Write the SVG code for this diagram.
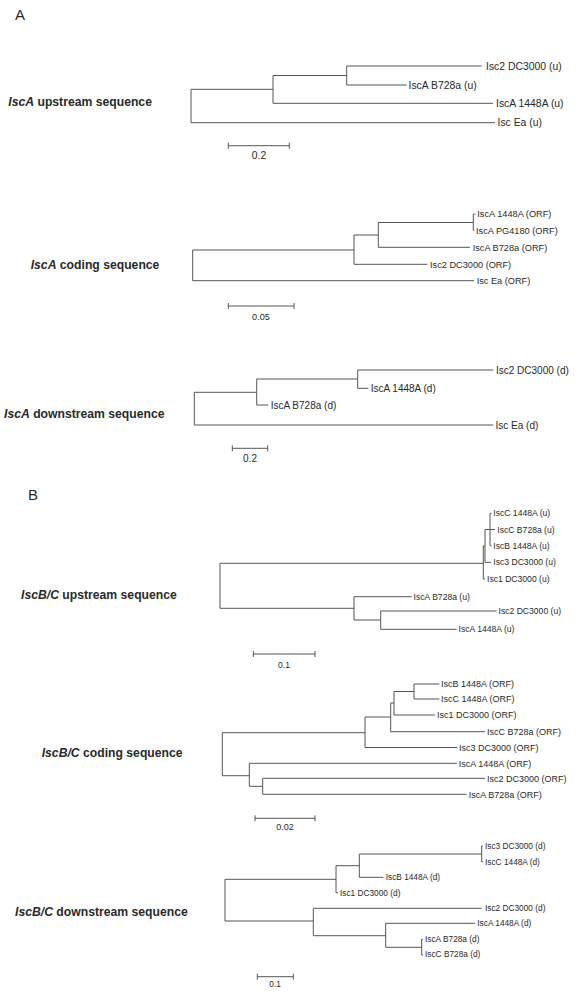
<svg xmlns="http://www.w3.org/2000/svg" width="579" height="1000" viewBox="0 0 579 1000">
<style>
text{font-family:"Liberation Sans",Arial,sans-serif;fill:#2a2a2a}
.br{fill:none;stroke:#555;stroke-width:1}
.sb{fill:none;stroke:#555;stroke-width:1}
.ttl{font-size:12.2px;font-weight:bold}
.ttl tspan.i{font-style:italic}
.pl{font-size:15px}
.a1 text{font-size:10.4px}
.a2 text{font-size:9.2px}
.a3 text{font-size:10px}
.b1 text{font-size:8.6px}
.b2 text{font-size:9px}
.b3 text{font-size:8.3px}
.sc{font-size:8.5px;text-anchor:middle}
.scb{font-size:8px;text-anchor:middle}
</style>
<rect width="579" height="1000" fill="#fff"/>
<text class="pl" x="15" y="19.5">A</text>
<text class="pl" x="28" y="499.5">B</text>
<g id="titles">
<text class="ttl" x="8.3" y="106"><tspan class="i">IscA</tspan> upstream sequence</text>
<text class="ttl" x="30.7" y="269"><tspan class="i">IscA</tspan> coding sequence</text>
<text class="ttl" x="4" y="418"><tspan class="i">IscA</tspan> downstream sequence</text>
<text class="ttl" x="21" y="599"><tspan class="i">IscB/C</tspan> upstream sequence</text>
<text class="ttl" x="41.7" y="757.3"><tspan class="i">IscB/C</tspan> coding sequence</text>
<text class="ttl" x="15" y="915.7"><tspan class="i">IscB/C</tspan> downstream sequence</text>
</g>
<g id="connectors">
<path class="br" d="M191,89.3V122.7M191,89.3H273M191,122.7H495M273,75.5V103.3M273,103.3H493M273,75.5H346.7M346.7,66V85M346.7,66H481.7M346.7,85H406.7"/>
<path class="sb" d="M228.3,145.7H289.3M228.3,142.7V148.7M289.3,142.7V148.7"/>
<path class="br" d="M192.7,250V280.7M192.7,250H354M192.7,280.7H474M354,235V264.3M354,264.3H427.3M354,235H378.3M378.3,222.5V247.3M378.3,247.3H470M378.3,222.5H473.3M473.3,214V231M473.3,214H475.5"/>
<path class="sb" d="M228.3,306H294M228.3,303V309M294,303V309"/>
<path class="br" d="M194.3,392.3V425M194.3,392.3H256.7M194.3,425H493.3M256.7,379V405M256.7,405H268.3M256.7,379H357.7M357.7,370V388.3M357.7,370H493.3M357.7,388.3H368.3"/>
<path class="sb" d="M232.3,448.3H267.7M232.3,445.3V451.3M267.7,445.3V451.3"/>
<path class="br" d="M220,563.3V608.3M220,563.3H483.3M220,608.3H354M354,596.7V620M354,596.7H411.7M354,620H380.7M380.7,611V629.3M380.7,611H496.7M380.7,629.3H456.7M483.3,546V579M483.3,546H485M483.3,579H485M485,529.5V562.3M485,562.3H491M485,529.5H490M490,513.3V545.7M490,513.3H491.5M490,545.7H491.5M490,529.5H495"/>
<path class="sb" d="M253.3,654H315M253.3,651V657M315,651V657"/>
<path class="br" d="M222.3,732.7V775.7M222.3,732.7H365M222.3,775.7H249.3M365,717V747.5M365,747.5H457.3M365,717H390.7M390.7,703V731.7M390.7,731.7H485M390.7,703H394M394,691.5V715M394,715H435M394,691.5H414M414,684V699M414,684H439.3M414,699H439.3M249.3,763.3V786.3M249.3,763.3H456.7M249.3,786.3H262.7M262.7,778.3V794.3M262.7,778.3H485M262.7,794.3H466.7"/>
<path class="sb" d="M255,818.3H315M255,815.3V821.3M315,815.3V821.3"/>
<path class="br" d="M225,879.3V921M225,879.3H336M225,921H313.3M336,865.7V892.7M336,892.7H338M336,865.7H359.3M359.3,854V877.3M359.3,877.3H383.3M359.3,854H481.7M481.7,846V861.7M481.7,846H483M481.7,861.7H483M313.3,908.3V935.7M313.3,908.3H481.7M313.3,935.7H385.7M385.7,923.3V947.3M385.7,923.3H475M385.7,947.3H421.7M421.7,939.3V955M421.7,939.3H423M421.7,955H423"/>
<path class="sb" d="M257.3,976.7H293.3M257.3,973.7V979.7M293.3,973.7V979.7"/>
</g>
<g class="a1">
<g id="a1-isc2"><text x="486" y="69.7">Isc2 DC3000 (u)</text></g>
<g id="a1-b728a"><text x="408.5" y="88.7">IscA B728a (u)</text></g>
<g id="a1-1448a"><text x="496" y="107">IscA 1448A (u)</text></g>
<g id="a1-ea"><text x="497.5" y="126.4">Isc Ea (u)</text></g>
<text class="sc" x="259" y="159">0.2</text>
</g>
<g class="a2">
<g id="a2-1448a"><text x="477.3" y="217.3">IscA 1448A (ORF)</text></g>
<g id="a2-pg4180"><text x="476" y="234.3">IscA PG4180 (ORF)</text></g>
<g id="a2-b728a"><text x="472.7" y="250.6">IscA B728a (ORF)</text></g>
<g id="a2-isc2"><text x="430" y="267.6">Isc2 DC3000 (ORF)</text></g>
<g id="a2-ea"><text x="476.7" y="284">Isc Ea (ORF)</text></g>
<text class="sc" x="261" y="320">0.05</text>
</g>
<g class="a3">
<g id="a3-isc2"><text x="496" y="373.5">Isc2 DC3000 (d)</text></g>
<g id="a3-1448a"><text x="370.7" y="391.8">IscA 1448A (d)</text></g>
<g id="a3-b728a"><text x="270.7" y="408.5">IscA B728a (d)</text></g>
<g id="a3-ea"><text x="495.5" y="428.5">Isc Ea (d)</text></g>
<text class="sc" x="250" y="461.5">0.2</text>
</g>
<g class="b1">
<g id="b1-iscc1448a"><text x="493.3" y="516.3">IscC 1448A (u)</text></g>
<g id="b1-iscc728"><text x="497.3" y="533">IscC B728a (u)</text></g>
<g id="b1-iscb1448a"><text x="493.3" y="548.7">IscB 1448A (u)</text></g>
<g id="b1-isc3"><text x="493.3" y="565.3">Isc3 DC3000 (u)</text></g>
<g id="b1-isc1"><text x="487" y="582">Isc1 DC3000 (u)</text></g>
<g id="b1-b728a"><text x="413.5" y="599.7">IscA B728a (u)</text></g>
<g id="b1-isc2"><text x="498.5" y="614">Isc2 DC3000 (u)</text></g>
<g id="b1-1448a"><text x="458.5" y="632.3">IscA 1448A (u)</text></g>
<text class="scb" x="284" y="668">0.1</text>
</g>
<g class="b2">
<g id="b2-iscb1448a"><text x="441" y="687.2">IscB 1448A (ORF)</text></g>
<g id="b2-iscc1448a"><text x="441" y="702.2">IscC 1448A (ORF)</text></g>
<g id="b2-isc1"><text x="437" y="718.2">Isc1 DC3000 (ORF)</text></g>
<g id="b2-iscc728"><text x="487" y="734.9">IscC B728a (ORF)</text></g>
<g id="b2-isc3"><text x="459" y="750.7">Isc3 DC3000 (ORF)</text></g>
<g id="b2-1448a"><text x="458.7" y="766.5">IscA 1448A (ORF)</text></g>
<g id="b2-isc2"><text x="487" y="781.5">Isc2 DC3000 (ORF)</text></g>
<g id="b2-b728a"><text x="468.7" y="797.5">IscA B728a (ORF)</text></g>
<text class="scb" x="285" y="829.5">0.02</text>
</g>
<g class="b3">
<g id="b3-isc3"><text x="485" y="849">Isc3 DC3000 (d)</text></g>
<g id="b3-iscc1448a"><text x="485" y="864.7">IscC 1448A (d)</text></g>
<g id="b3-iscb1448a"><text x="385.7" y="879.7">IscB 1448A (d)</text></g>
<g id="b3-isc1"><text x="340" y="895.7">Isc1 DC3000 (d)</text></g>
<g id="b3-isc2"><text x="485" y="911.3">Isc2 DC3000 (d)</text></g>
<g id="b3-1448a"><text x="477.3" y="926.3">IscA 1448A (d)</text></g>
<g id="b3-b728a"><text x="425" y="942">IscA B728a (d)</text></g>
<g id="b3-iscc728"><text x="425" y="957.3">IscC B728a (d)</text></g>
<text class="scb" x="275" y="987">0.1</text>
</g>
</svg>
